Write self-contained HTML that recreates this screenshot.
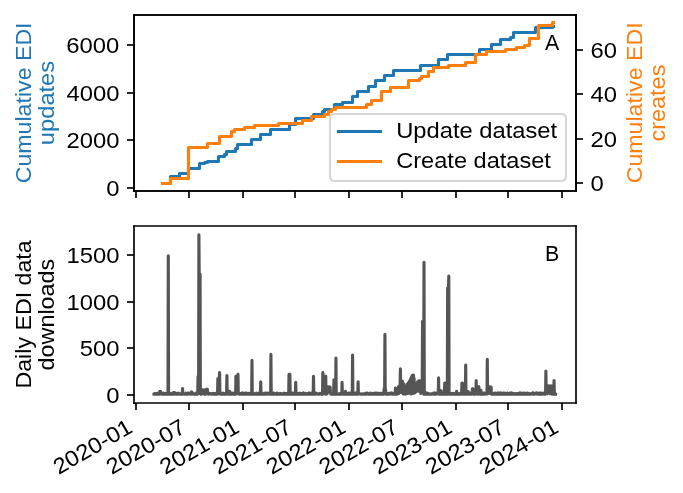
<!DOCTYPE html>
<html><head><meta charset="utf-8"><style>
html,body{margin:0;padding:0;background:#fff;}
body{width:683px;height:493px;overflow:hidden;}
svg{display:block;will-change:transform;}
text{font-family:"Liberation Sans",sans-serif;}
</style></head><body>
<svg width="683" height="493" viewBox="0 0 683 493" font-family="Liberation Sans, sans-serif">
<rect width="683" height="493" fill="#fff"/>
<path d="M134 191L576 191L576 15L134 15Z" fill="#ffffff"/>
<path d="M136 191L136 198" fill="none" stroke="#000000" stroke-width="1.67" stroke-linecap="butt"/>
<path d="M189 191L189 198" fill="none" stroke="#000000" stroke-width="1.67" stroke-linecap="butt"/>
<path d="M243 191L243 198" fill="none" stroke="#000000" stroke-width="1.67" stroke-linecap="butt"/>
<path d="M295 191L295 198" fill="none" stroke="#000000" stroke-width="1.67" stroke-linecap="butt"/>
<path d="M349 191L349 198" fill="none" stroke="#000000" stroke-width="1.67" stroke-linecap="butt"/>
<path d="M402 191L402 198" fill="none" stroke="#000000" stroke-width="1.67" stroke-linecap="butt"/>
<path d="M456 191L456 198" fill="none" stroke="#000000" stroke-width="1.67" stroke-linecap="butt"/>
<path d="M508 191L508 198" fill="none" stroke="#000000" stroke-width="1.67" stroke-linecap="butt"/>
<path d="M562 191L562 198" fill="none" stroke="#000000" stroke-width="1.67" stroke-linecap="butt"/>
<path d="M134 188L127 188" fill="none" stroke="#000000" stroke-width="1.67" stroke-linecap="butt"/>
<text x="106.17" y="196" font-size="22.19" fill="#000000" textLength="13.26" lengthAdjust="spacingAndGlyphs">0</text>
<path d="M134 140L127 140" fill="none" stroke="#000000" stroke-width="1.67" stroke-linecap="butt"/>
<text x="66.42" y="148.33" font-size="22.19" fill="#000000" textLength="53.02" lengthAdjust="spacingAndGlyphs">2000</text>
<path d="M134 93L127 93" fill="none" stroke="#000000" stroke-width="1.67" stroke-linecap="butt"/>
<text x="66.42" y="100.67" font-size="22.19" fill="#000000" textLength="53.02" lengthAdjust="spacingAndGlyphs">4000</text>
<path d="M134 45L127 45" fill="none" stroke="#000000" stroke-width="1.67" stroke-linecap="butt"/>
<text x="66.29" y="53" font-size="22.19" fill="#000000" textLength="53.02" lengthAdjust="spacingAndGlyphs">6000</text>
<text x="30.76" y="183.31" font-size="21.46" fill="#1f77b4" textLength="160.88" lengthAdjust="spacingAndGlyphs" transform="rotate(-90 30.76 183.31)">Cumulative EDI</text>
<text x="53.96" y="145.12" font-size="21.46" fill="#1f77b4" textLength="84.26" lengthAdjust="spacingAndGlyphs" transform="rotate(-90 53.96 145.12)">updates</text>
<path d="M162.5 183.5L170.5 183.5L170.5 176.5L179.5 176.5L179.5 173.5L188.5 173.5L188.5 168.5L199.5 168.5L199.5 163.5L204.5 163.5L204.5 162.5L207.5 162.5L207.5 161.5L218.5 161.5L218.5 156.5L224.5 156.5L224.5 154.5L226.5 154.5L226.5 151.5L235.5 151.5L235.5 148.5L237.5 148.5L237.5 144.5L251.5 144.5L251.5 139.5L260.5 139.5L260.5 134.5L270.5 134.5L270.5 129.5L289.5 129.5L289.5 124.5L295.5 124.5L295.5 118.5L313.5 118.5L313.5 114.5L322.5 114.5L322.5 111.5L324.5 111.5L324.5 109.5L334.5 109.5L334.5 104.5L342.5 104.5L342.5 102.5L352.5 102.5L352.5 96.5L357.5 96.5L357.5 91.5L368.5 91.5L368.5 86.5L375.5 86.5L375.5 80.5L384.5 80.5L384.5 75.5L393.5 75.5L393.5 70.5L420.5 70.5L420.5 65.5L438.5 65.5L438.5 59.5L447.5 59.5L447.5 54.5L479.5 54.5L479.5 49.5L491.5 49.5L491.5 44.5L500.5 44.5L500.5 39.5L510.5 39.5L510.5 37.5L513.5 37.5L513.5 32.5L535.5 32.5L535.5 27.5L552.5 27.5L552.5 26.5L553.5 26.5L553.5 26.5" fill="none" stroke="#1f77b4" stroke-width="3.12" stroke-linecap="square" stroke-linejoin="round"/>
<path d="M134 191L134 15" fill="none" stroke="#000000" stroke-width="1.67" stroke-linecap="square" stroke-linejoin="miter"/>
<path d="M576 191L576 15" fill="none" stroke="#000000" stroke-width="1.67" stroke-linecap="square" stroke-linejoin="miter"/>
<path d="M134 191L576 191" fill="none" stroke="#000000" stroke-width="1.67" stroke-linecap="square" stroke-linejoin="miter"/>
<path d="M134 15L576 15" fill="none" stroke="#000000" stroke-width="1.67" stroke-linecap="square" stroke-linejoin="miter"/>
<text x="545.06" y="50.2" font-size="22.19" fill="#000000" textLength="14.25" lengthAdjust="spacingAndGlyphs">A</text>
<path d="M134 403L576 403L576 226L134 226Z" fill="#ffffff"/>
<path d="M136 403L136 410" fill="none" stroke="#000000" stroke-width="1.67" stroke-linecap="butt"/>
<text x="58.66" y="474.94" font-size="22.19" fill="#000000" textLength="87.05" lengthAdjust="spacingAndGlyphs" transform="rotate(-30 58.66 474.94)">2020-01</text>
<path d="M189 403L189 410" fill="none" stroke="#000000" stroke-width="1.67" stroke-linecap="butt"/>
<text x="111.72" y="474.94" font-size="22.19" fill="#000000" textLength="87.05" lengthAdjust="spacingAndGlyphs" transform="rotate(-30 111.72 474.94)">2020-07</text>
<path d="M243 403L243 410" fill="none" stroke="#000000" stroke-width="1.67" stroke-linecap="butt"/>
<text x="165.37" y="474.94" font-size="22.19" fill="#000000" textLength="87.05" lengthAdjust="spacingAndGlyphs" transform="rotate(-30 165.37 474.94)">2021-01</text>
<path d="M295 403L295 410" fill="none" stroke="#000000" stroke-width="1.67" stroke-linecap="butt"/>
<text x="218.15" y="474.94" font-size="22.19" fill="#000000" textLength="87.05" lengthAdjust="spacingAndGlyphs" transform="rotate(-30 218.15 474.94)">2021-07</text>
<path d="M349 403L349 410" fill="none" stroke="#000000" stroke-width="1.67" stroke-linecap="butt"/>
<text x="271.8" y="474.94" font-size="22.19" fill="#000000" textLength="87.05" lengthAdjust="spacingAndGlyphs" transform="rotate(-30 271.8 474.94)">2022-01</text>
<path d="M402 403L402 410" fill="none" stroke="#000000" stroke-width="1.67" stroke-linecap="butt"/>
<text x="324.58" y="474.94" font-size="22.19" fill="#000000" textLength="87.05" lengthAdjust="spacingAndGlyphs" transform="rotate(-30 324.58 474.94)">2022-07</text>
<path d="M456 403L456 410" fill="none" stroke="#000000" stroke-width="1.67" stroke-linecap="butt"/>
<text x="378.23" y="474.94" font-size="22.19" fill="#000000" textLength="87.05" lengthAdjust="spacingAndGlyphs" transform="rotate(-30 378.23 474.94)">2023-01</text>
<path d="M508 403L508 410" fill="none" stroke="#000000" stroke-width="1.67" stroke-linecap="butt"/>
<text x="431" y="474.94" font-size="22.19" fill="#000000" textLength="87.05" lengthAdjust="spacingAndGlyphs" transform="rotate(-30 431 474.94)">2023-07</text>
<path d="M562 403L562 410" fill="none" stroke="#000000" stroke-width="1.67" stroke-linecap="butt"/>
<text x="484.66" y="474.94" font-size="22.19" fill="#000000" textLength="87.05" lengthAdjust="spacingAndGlyphs" transform="rotate(-30 484.66 474.94)">2024-01</text>
<path d="M134 395L127 395" fill="none" stroke="#000000" stroke-width="1.67" stroke-linecap="butt"/>
<text x="106.17" y="403" font-size="22.19" fill="#000000" textLength="13.26" lengthAdjust="spacingAndGlyphs">0</text>
<path d="M134 348L127 348" fill="none" stroke="#000000" stroke-width="1.67" stroke-linecap="butt"/>
<text x="79.67" y="356.33" font-size="22.19" fill="#000000" textLength="39.77" lengthAdjust="spacingAndGlyphs">500</text>
<path d="M134 302L127 302" fill="none" stroke="#000000" stroke-width="1.67" stroke-linecap="butt"/>
<text x="66.42" y="309.67" font-size="22.19" fill="#000000" textLength="53.02" lengthAdjust="spacingAndGlyphs">1000</text>
<path d="M134 255L127 255" fill="none" stroke="#000000" stroke-width="1.67" stroke-linecap="butt"/>
<text x="66.42" y="263" font-size="22.19" fill="#000000" textLength="53.02" lengthAdjust="spacingAndGlyphs">1500</text>
<text x="30.88" y="388.56" font-size="21.46" fill="#000000" textLength="148.24" lengthAdjust="spacingAndGlyphs" transform="rotate(-90 30.88 388.56)">Daily EDI data</text>
<text x="54.08" y="370.38" font-size="21.46" fill="#000000" textLength="111.6" lengthAdjust="spacingAndGlyphs" transform="rotate(-90 54.08 370.38)">downloads</text>
<path d="M154 394.2L154.29 394.18L154.58 393.53L154.87 393.94L155.17 394.2L155.46 394.09L155.75 394.06L156.04 394.19L156.33 393.68L156.62 394.2L156.92 394.12L157.21 394.02L157.5 394.1L157.79 393.94L158.08 393.68L158.37 393.06L158.67 394.17L158.96 393.85L159.25 393.76L159.54 394.17L159.83 391.6L160.12 394.06L160.41 391.6L160.71 391.6L161 393.28L161.29 393.94L161.58 394.06L161.87 393.6L162.16 394.2L162.46 393.74L162.75 394.13L163.04 394.2L163.33 393.83L163.62 393.15L163.91 394.19L164.21 393.87L164.5 394.17L164.79 393.67L165.08 393.71L165.37 394.19L165.66 393.46L165.95 393.83L166.25 393.79L166.54 393.48L166.83 394.1L167.12 393.63L167.41 393.32L167.7 394.2L168 393.4L168.29 255.8L168.58 394.06L168.87 394.2L169.16 393.76L169.45 394.17L169.75 393.34L170.04 394.17L170.33 393.97L170.62 394.12L170.91 393.9L171.2 394.19L171.49 394.19L171.79 393.66L172.08 393.65L172.37 393.96L172.66 393.18L172.95 394.19L173.24 393.4L173.54 394.19L173.83 392.5L174.12 393.53L174.41 392.5L174.7 393.01L174.99 393.57L175.29 393.56L175.58 394.2L175.87 394.13L176.16 394.2L176.45 394.19L176.74 394.19L177.03 393.38L177.33 394.2L177.62 394.17L177.91 394.04L178.2 393.4L178.49 393.03L178.78 393.74L179.08 394.19L179.37 393.99L179.66 393.74L179.95 394.2L180.24 393.79L180.53 394.14L180.83 393.93L181.12 393.81L181.41 393.81L181.7 394.01L181.99 393.98L182.28 394.19L182.57 388.5L182.87 394.2L183.16 394.06L183.45 394L183.74 393.6L184.03 394.12L184.32 394.2L184.62 394.01L184.91 394.19L185.2 393.67L185.49 394.12L185.78 394.13L186.07 393.22L186.37 394.12L186.66 394.14L186.95 394.15L187.24 394.06L187.53 394.2L187.82 393.99L188.11 393.18L188.41 393.97L188.7 393.66L188.99 393.1L189.28 393.42L189.57 393.66L189.86 393.5L190.16 393.48L190.45 394.18L190.74 394.05L191.03 394.15L191.32 392L191.61 393.77L191.91 392L192.2 393.89L192.49 393.94L192.78 394.2L193.07 394.09L193.36 394.12L193.66 393.74L193.95 394.2L194.24 394.19L194.53 394.02L194.82 394.11L195.11 393.82L195.4 394.15L195.7 394.19L195.99 393.15L196.28 394.18L196.57 394.2L196.86 394.17L197.15 394.15L197.45 394.19L197.74 394L198.03 376.5L198.32 387.96L198.61 376.5L198.9 234.7L199.2 274L199.49 346.77L199.78 274L200.07 274L200.36 393.31L200.65 394.2L200.94 393.94L201.24 394.19L201.53 390L201.82 394.01L202.11 390L202.4 393.64L202.69 390L202.99 393.3L203.28 390L203.57 393.88L203.86 390L204.15 394.13L204.44 390L204.74 393.75L205.03 394.16L205.32 394.13L205.61 393.62L205.9 394.04L206.19 393.57L206.48 389.3L206.78 393.38L207.07 389.3L207.36 389.3L207.65 393.97L207.94 393.03L208.23 394.2L208.53 394.15L208.82 393.61L209.11 393.78L209.4 393.97L209.69 393.82L209.98 393.32L210.28 393.78L210.57 393.99L210.86 393.97L211.15 393.82L211.44 394.16L211.73 393.81L212.02 393.9L212.32 393.57L212.61 394.06L212.9 394.2L213.19 394L213.48 393.38L213.77 393.86L214.07 393.85L214.36 394.12L214.65 394.14L214.94 393.72L215.23 394.2L215.52 393.35L215.82 393.33L216.11 393.04L216.4 394.2L216.69 394.2L216.98 393.27L217.27 394.12L217.56 394.17L217.86 378.6L218.15 390.8L218.44 378.6L218.73 387.96L219.02 378.6L219.31 378.6L219.61 372.6L219.9 393.51L220.19 394.09L220.48 394.09L220.77 393.97L221.06 394.17L221.36 393.29L221.65 394.19L221.94 393.99L222.23 394.19L222.52 393.9L222.81 393.25L223.1 393.31L223.4 394.2L223.69 393.88L223.98 393.28L224.27 394.19L224.56 394.11L224.85 393.73L225.15 393.68L225.44 394.08L225.73 393.86L226.02 393.81L226.31 394.14L226.6 393.84L226.9 375.6L227.19 393.76L227.48 394.03L227.77 394.15L228.06 394.09L228.35 393.18L228.64 394.19L228.94 394.2L229.23 394.2L229.52 393.4L229.81 391.4L230.1 394.18L230.39 394.18L230.69 394.19L230.98 393.92L231.27 394.05L231.56 393.48L231.85 394.19L232.14 393.32L232.44 394.07L232.73 393.51L233.02 393.53L233.31 393.22L233.6 394.04L233.89 393.91L234.18 393.97L234.48 394.19L234.77 394.04L235.06 393.17L235.35 393.22L235.64 394.2L235.93 376.2L236.23 393.83L236.52 376.2L236.81 392.59L237.1 376.2L237.39 387.76L237.68 376.2L237.98 374.4L238.27 394.03L238.56 393.46L238.85 393.66L239.14 394.2L239.43 394.19L239.72 393.35L240.02 394.04L240.31 393.83L240.6 393.59L240.89 393.86L241.18 393.69L241.47 393.99L241.77 394.18L242.06 394.19L242.35 392.93L242.64 394.2L242.93 393.77L243.22 393.31L243.52 394.18L243.81 394.2L244.1 394.12L244.39 394.15L244.68 394.07L244.97 394.1L245.26 393.11L245.56 394.2L245.85 393.11L246.14 394.2L246.43 393.13L246.72 394.15L247.01 393.7L247.31 394.2L247.6 394.08L247.89 393.8L248.18 393.88L248.47 393.52L248.76 394.2L249.06 394.12L249.35 393.9L249.64 394.2L249.93 393.44L250.22 394.11L250.51 394.18L250.8 394.19L251.1 393.84L251.39 394.2L251.68 394.18L251.97 360.4L252.26 394.18L252.55 393.69L252.85 393.93L253.14 393.24L253.43 393.75L253.72 394.17L254.01 394.16L254.3 394.2L254.6 394.18L254.89 393.91L255.18 393.69L255.47 394.17L255.76 394.15L256.05 393.53L256.34 393.06L256.64 394.2L256.93 394.2L257.22 393.63L257.51 394.04L257.8 394.1L258.09 393.87L258.39 393.63L258.68 394.2L258.97 393.04L259.26 393.06L259.55 394.11L259.84 394.07L260.14 394.17L260.43 393.94L260.72 381.7L261.01 394L261.3 393.24L261.59 394.03L261.89 393.46L262.18 394.19L262.47 393.3L262.76 394.2L263.05 394.19L263.34 393.71L263.63 394.16L263.93 394.2L264.22 394.2L264.51 393.55L264.8 394.2L265.09 394.2L265.38 393.1L265.68 393.58L265.97 394.13L266.26 394.19L266.55 393.35L266.84 393.56L267.13 393.81L267.43 394.01L267.72 394.01L268.01 392.98L268.3 394.01L268.59 394.2L268.88 394.2L269.17 393.93L269.47 393.69L269.76 393.88L270.05 393.67L270.34 394.17L270.63 394.13L270.92 354.4L271.22 394.13L271.51 394.18L271.8 393.45L272.09 394.2L272.38 394.19L272.67 393.73L272.97 394.12L273.26 394.15L273.55 393L273.84 393.27L274.13 394.19L274.42 394.2L274.71 394.04L275.01 393.95L275.3 394.15L275.59 393.93L275.88 393.79L276.17 393.5L276.46 394.18L276.76 393.85L277.05 393L277.34 394.2L277.63 394.2L277.92 394.2L278.21 393.58L278.51 394.13L278.8 394.04L279.09 394.08L279.38 394.19L279.67 394.2L279.96 394.19L280.25 393.38L280.55 394.15L280.84 394.1L281.13 394.18L281.42 393.67L281.71 393.75L282 394.13L282.3 394.03L282.59 394.12L282.88 393.96L283.17 393.93L283.46 393.95L283.75 393.25L284.05 393.08L284.34 394.2L284.63 394.13L284.92 394.2L285.21 394.13L285.5 393.53L285.79 393.79L286.09 393.96L286.38 394.2L286.67 393.51L286.96 393.9L287.25 394.16L287.54 393.57L287.84 394.2L288.13 394.19L288.42 393.56L288.71 394.2L289 374.4L289.29 389.82L289.59 374.4L289.88 374.4L290.17 394.2L290.46 394.17L290.75 393.74L291.04 394.15L291.33 394.19L291.63 394.2L291.92 394.18L292.21 393.15L292.5 394.2L292.79 393.98L293.08 393.22L293.38 393.75L293.67 394.17L293.96 393.85L294.25 394.2L294.54 394.04L294.83 394.18L295.13 393.33L295.42 393.36L295.71 382.4L296 394.13L296.29 393.54L296.58 392.98L296.87 394.13L297.17 394.01L297.46 394.19L297.75 394.2L298.04 393.71L298.33 394.2L298.62 393.92L298.92 394.2L299.21 393.81L299.5 393.64L299.79 393.12L300.08 394.12L300.37 394.12L300.67 394.12L300.96 393.74L301.25 393.56L301.54 394.2L301.83 394.16L302.12 394.2L302.41 394.18L302.71 393.69L303 393.13L303.29 392.98L303.58 394.2L303.87 394.12L304.16 393.34L304.46 394.03L304.75 394.14L305.04 393.58L305.33 393.36L305.62 394.2L305.91 394.02L306.21 394.2L306.5 394.19L306.79 394.01L307.08 394.18L307.37 393.52L307.66 394.14L307.95 394.19L308.25 393.88L308.54 394.18L308.83 394.2L309.12 392.9L309.41 394.19L309.7 394.2L310 394.06L310.29 394.2L310.58 393.56L310.87 394.2L311.16 394.2L311.45 393.03L311.75 394.02L312.04 393.16L312.33 393.26L312.62 393.69L312.91 394.2L313.2 393.85L313.49 376.2L313.79 394.2L314.08 393.42L314.37 394.16L314.66 393.66L314.95 394.01L315.24 393.57L315.54 393.86L315.83 393L316.12 394.06L316.41 393.39L316.7 393.48L316.99 393.94L317.29 394.03L317.58 394.1L317.87 393.85L318.16 394.19L318.45 394.09L318.74 393.85L319.03 394.16L319.33 394.19L319.62 394.2L319.91 393.52L320.2 393.33L320.49 393.45L320.78 393.74L321.08 393.91L321.37 394.2L321.66 393.31L321.95 394.06L322.24 393.78L322.53 394.2L322.83 372.6L323.12 376.5L323.41 388.87L323.7 376.5L323.99 393.83L324.28 376.5L324.57 389.27L324.87 376.5L325.16 388.13L325.45 376.5L325.74 376.2L326.03 394.19L326.32 394.11L326.62 387L326.91 393.91L327.2 387L327.49 392.2L327.78 387L328.07 391.69L328.37 387L328.66 391.5L328.95 387L329.24 391.79L329.53 387L329.82 392.57L330.11 387L330.41 393.51L330.7 393.4L330.99 394.15L331.28 394.07L331.57 394.19L331.86 393.94L332.16 394.2L332.45 394.07L332.74 394.19L333.03 394.06L333.32 394.19L333.61 394.2L333.91 379.8L334.2 389.88L334.49 379.8L334.78 392.33L335.07 379.8L335.36 394.17L335.66 394.2L335.95 358L336.24 393.81L336.53 394.16L336.82 393.73L337.11 393.56L337.4 394.2L337.7 394.19L337.99 394.17L338.28 393.93L338.57 394.05L338.86 393.96L339.15 394.2L339.45 394.17L339.74 394.19L340.03 393.66L340.32 393.78L340.61 394.16L340.9 393.33L341.2 394.2L341.49 394.2L341.78 394.13L342.07 382.4L342.36 393.1L342.65 394.03L342.94 394.2L343.24 393.92L343.53 394.2L343.82 393.49L344.11 394.16L344.4 394.2L344.69 394.2L344.99 393.46L345.28 393.23L345.57 391.2L345.86 392.91L346.15 393.37L346.44 394.15L346.74 394.2L347.03 394.2L347.32 394.09L347.61 394.19L347.9 394.19L348.19 394.17L348.48 393.32L348.78 394.2L349.07 393.18L349.36 394.08L349.65 393.68L349.94 394.03L350.23 393.1L350.53 394.19L350.82 394.18L351.11 394.03L351.4 394.03L351.69 394.15L351.98 394.16L352.28 394.2L352.57 355L352.86 393.46L353.15 393.35L353.44 394.11L353.73 392.98L354.02 393.02L354.32 394.16L354.61 394.2L354.9 393.44L355.19 393.12L355.48 393.84L355.77 393.03L356.07 394.06L356.36 394.01L356.65 394.2L356.94 394.13L357.23 393.17L357.52 394.2L357.82 394.2L358.11 381.7L358.4 394.04L358.69 393.91L358.98 394L359.27 393.32L359.56 393.79L359.86 393.86L360.15 393.92L360.44 394.03L360.73 394.2L361.02 394.2L361.31 393.85L361.61 394.19L361.9 394.11L362.19 393.85L362.48 393.92L362.77 394.18L363.06 394.18L363.36 394.2L363.65 393.82L363.94 393.72L364.23 394.2L364.52 394.17L364.81 394.2L365.1 393.9L365.4 394.17L365.69 393.34L365.98 394.18L366.27 393.85L366.56 393.87L366.85 393.11L367.15 393.71L367.44 393.14L367.73 393.94L368.02 394.2L368.31 394.15L368.6 393.67L368.9 394.15L369.19 393.83L369.48 394.2L369.77 393.85L370.06 394.13L370.35 393.1L370.64 394.2L370.94 394.14L371.23 393.61L371.52 394.12L371.81 394.07L372.1 394.15L372.39 394.2L372.69 394.16L372.98 393.32L373.27 393.61L373.56 394.16L373.85 393.81L374.14 393.55L374.44 393.54L374.73 394.2L375.02 394.19L375.31 393.06L375.6 394.17L375.89 393.59L376.18 393.87L376.48 393.34L376.77 394.2L377.06 393.14L377.35 393.33L377.64 394.18L377.93 393.73L378.23 394.2L378.52 393.36L378.81 394.11L379.1 393.67L379.39 393.55L379.68 394.2L379.98 393.31L380.27 394.2L380.56 394.2L380.85 394.08L381.14 394.18L381.43 393.85L381.72 394.19L382.02 393.89L382.31 393.63L382.6 393.04L382.89 394.12L383.18 394.17L383.47 393.95L383.77 393.84L384.06 389L384.35 393.97L384.64 389L384.93 334.2L385.22 389L385.52 389L385.81 394.2L386.1 394.17L386.39 394.19L386.68 394.04L386.97 394.13L387.26 394.19L387.56 394.01L387.85 393.83L388.14 394.15L388.43 393.44L388.72 394.2L389.01 394.2L389.31 393.74L389.6 393.97L389.89 393.65L390.18 393.14L390.47 394.03L390.76 393.49L391.06 393.85L391.35 394.02L391.64 394.03L391.93 392.93L392.22 394.15L392.51 394.1L392.8 394.06L393.1 393.86L393.39 394.2L393.68 393.84L393.97 394.2L394.26 394.13L394.55 394.09L394.85 393.96L395.14 393.96L395.43 388L395.72 394.2L396.01 394.15L396.3 393.68L396.6 394.11L396.89 393.47L397.18 393.99L397.47 393.96L397.76 393.8L398.05 393.09L398.34 387.05L398.64 393.57L398.93 386.32L399.22 391.43L399.51 386.13L399.8 392.56L400.09 386L400.39 368.8L400.68 386L400.97 392.64L401.26 383.2L401.55 391.56L401.84 381.04L402.14 390.04L402.43 381.18L402.72 390.51L403.01 382.5L403.3 394.05L403.59 383.98L403.89 392.81L404.18 386.16L404.47 394L404.76 387.3L405.05 394.09L405.34 387.79L405.63 393.32L405.93 387.13L406.22 393.96L406.51 385.58L406.8 392.29L407.09 384.02L407.38 391.63L407.68 383.5L407.97 393.48L408.26 383L408.55 391.51L408.84 382.29L409.13 391.01L409.43 381.31L409.72 391.75L410.01 380.32L410.3 391.19L410.59 379.04L410.88 393.97L411.17 377.61L411.47 393.59L411.76 376.42L412.05 392.42L412.34 375.31L412.63 393.49L412.92 375L413.22 389.17L413.51 375L413.8 389.24L414.09 378.25L414.38 391.29L414.67 384.78L414.97 393.04L415.26 385.59L415.55 391.13L415.84 384.81L416.13 391.1L416.42 383.84L416.71 391.35L417.01 382.79L417.3 390.43L417.59 381.82L417.88 390.89L418.17 381.28L418.46 390.06L418.76 380.8L419.05 390.9L419.34 380.8L419.63 391.55L419.92 380.8L420.21 392.07L420.51 381.64L420.8 393.4L421.09 383L421.38 391.42L421.67 383L421.96 391.79L422.25 383L422.55 321.4L422.84 369.35L423.13 321.4L423.42 321.4L423.71 394.2L424 262.2L424.3 393.68L424.59 393.95L424.88 393.23L425.17 394.05L425.46 394.08L425.75 394.2L426.05 393.07L426.34 393.8L426.63 392.98L426.92 393.14L427.21 394.2L427.5 393.91L427.79 394.05L428.09 393.64L428.38 394.2L428.67 393.83L428.96 393.9L429.25 394.13L429.54 394.2L429.84 393.78L430.13 394.2L430.42 394.15L430.71 394.2L431 394.16L431.29 394.18L431.59 393.89L431.88 393.78L432.17 393.74L432.46 394.11L432.75 393.64L433.04 393.83L433.33 394L433.63 393L433.92 393.01L434.21 394.06L434.5 393.04L434.79 393.89L435.08 394.12L435.38 394.06L435.67 393.83L435.96 394.16L436.25 393.18L436.54 394.13L436.83 393.88L437.13 393.37L437.42 393.46L437.71 393.8L438 393.73L438.29 393.64L438.58 377.9L438.87 394.09L439.17 393.26L439.46 394.19L439.75 394.2L440.04 394.16L440.33 394.18L440.62 390.8L440.92 392.89L441.21 390.8L441.5 393.98L441.79 394.19L442.08 393.33L442.37 393.31L442.67 394.2L442.96 393.61L443.25 393.96L443.54 394.19L443.83 394.15L444.12 393.69L444.41 394.19L444.71 383L445 393.13L445.29 383L445.58 394.19L445.87 393.47L446.16 393.99L446.46 393.77L446.75 393.88L447.04 394.16L447.33 393.68L447.62 288L447.91 379.89L448.21 288L448.5 288L448.79 276L449.08 394.12L449.37 393.08L449.66 394.16L449.95 393.28L450.25 394.2L450.54 394.2L450.83 394.17L451.12 393.67L451.41 393.92L451.7 394.11L452 394.11L452.29 393.43L452.58 394.19L452.87 393.56L453.16 394.13L453.45 393.77L453.75 393.49L454.04 394.1L454.33 394.19L454.62 394.18L454.91 394.18L455.2 394.2L455.49 394.1L455.79 393.85L456.08 394.12L456.37 393.06L456.66 391.2L456.95 393.59L457.24 393.55L457.54 394.16L457.83 393.63L458.12 394.2L458.41 394.2L458.7 394.2L458.99 394.16L459.29 393.7L459.58 394.2L459.87 394.13L460.16 393.92L460.45 393.41L460.74 393.97L461.03 394.18L461.33 394.2L461.62 394.03L461.91 383L462.2 393.61L462.49 383L462.78 394.19L463.08 394.2L463.37 394.2L463.66 394.17L463.95 394L464.24 394.2L464.53 393.89L464.83 394.16L465.12 393.56L465.41 394.01L465.7 365L465.99 394.18L466.28 393.96L466.57 393.29L466.87 394.2L467.16 393.14L467.45 393.93L467.74 392.91L468.03 394.17L468.32 391.5L468.62 393.78L468.91 393.93L469.2 393.89L469.49 393.36L469.78 394.19L470.07 393.72L470.37 394.09L470.66 393.21L470.95 393.09L471.24 394.09L471.53 394.14L471.82 393.25L472.11 393.12L472.41 388.8L472.7 392.3L472.99 388.8L473.28 394.05L473.57 394.14L473.86 394.2L474.16 394.09L474.45 394.19L474.74 393.7L475.03 393.9L475.32 393.13L475.61 393.77L475.91 394.18L476.2 380.6L476.49 394.04L476.78 394L477.07 393.12L477.36 393.87L477.66 394.15L477.95 394.17L478.24 393.95L478.53 394.2L478.82 386.6L479.11 393.26L479.4 393.19L479.7 393.97L479.99 393.99L480.28 394.15L480.57 393.93L480.86 390.2L481.15 393.84L481.45 393.07L481.74 393.64L482.03 394.2L482.32 394.19L482.61 393.77L482.9 393L483.2 393.92L483.49 393.44L483.78 394.17L484.07 394.18L484.36 392.97L484.65 393.32L484.94 394.08L485.24 393.49L485.53 393.85L485.82 393.58L486.11 393.93L486.4 393.79L486.69 393.11L486.99 394.1L487.28 359.2L487.57 393.05L487.86 387.1L488.15 393.34L488.44 387.1L488.74 392.16L489.03 387.1L489.32 391.89L489.61 387.1L489.9 392.44L490.19 387.1L490.48 393.77L490.78 387.1L491.07 387.1L491.36 393.12L491.65 393.63L491.94 394.2L492.23 393.56L492.53 394.2L492.82 394.02L493.11 394.19L493.4 394.19L493.69 394L493.98 393.3L494.28 394.2L494.57 394.19L494.86 394.05L495.15 393.07L495.44 394.14L495.73 393.34L496.02 393.99L496.32 394.08L496.61 393.62L496.9 394.19L497.19 394.01L497.48 394.2L497.77 394.01L498.07 392.91L498.36 394.2L498.65 394.2L498.94 393.96L499.23 393.15L499.52 393.98L499.82 393.04L500.11 394.16L500.4 392.93L500.69 394.19L500.98 393.6L501.27 394.15L501.56 393.44L501.86 394.2L502.15 394.16L502.44 393.17L502.73 393.6L503.02 394.05L503.31 394.13L503.61 393.11L503.9 394.19L504.19 394.19L504.48 394.2L504.77 393.81L505.06 393.21L505.36 394.2L505.65 393.62L505.94 393.61L506.23 394.19L506.52 394.02L506.81 393.96L507.1 394.2L507.4 393.1L507.69 394.2L507.98 394.2L508.27 393.75L508.56 394.04L508.85 393.57L509.15 393.85L509.44 394.2L509.73 394.08L510.02 392.98L510.31 394.16L510.6 394.19L510.9 393.29L511.19 394.2L511.48 394.11L511.77 392.92L512.06 393.37L512.35 394.2L512.64 394.2L512.94 394.05L513.23 393.78L513.52 393.51L513.81 394.19L514.1 394.1L514.39 394.08L514.69 394.16L514.98 393.79L515.27 394L515.56 394.11L515.85 393.6L516.14 394.17L516.44 393.92L516.73 393.58L517.02 394.15L517.31 394.2L517.6 394.2L517.89 393.56L518.18 393.5L518.48 393.73L518.77 394.2L519.06 394.18L519.35 393.09L519.64 393.97L519.93 394.1L520.23 393.01L520.52 393.02L520.81 394.18L521.1 393.71L521.39 393.49L521.68 393.4L521.98 393.21L522.27 393.65L522.56 394.2L522.85 394.16L523.14 394.19L523.43 393.86L523.72 393.99L524.02 393.01L524.31 394.18L524.6 394.2L524.89 394.2L525.18 394.19L525.47 393.27L525.77 393.9L526.06 394.18L526.35 393.95L526.64 393.85L526.93 394.15L527.22 394.2L527.52 393L527.81 393.94L528.1 394.2L528.39 394.04L528.68 394.2L528.97 394.11L529.26 393.69L529.56 393.91L529.85 394.15L530.14 393.62L530.43 394.18L530.72 393.84L531.01 394.17L531.31 393.87L531.6 393.95L531.89 393.92L532.18 393.41L532.47 393.5L532.76 392.98L533.06 394.18L533.35 392.96L533.64 393.81L533.93 394.2L534.22 394.2L534.51 394.18L534.8 394.08L535.1 393.86L535.39 393.29L535.68 393.43L535.97 393.19L536.26 393.34L536.55 393.34L536.85 392.96L537.14 393.65L537.43 394.2L537.72 393.95L538.01 394.08L538.3 393.79L538.6 394.17L538.89 393.17L539.18 394.17L539.47 394.08L539.76 394.19L540.05 393.19L540.34 393.26L540.64 393.09L540.93 394.19L541.22 394.15L541.51 393.21L541.8 393.31L542.09 394.2L542.39 394.07L542.68 394.2L542.97 393.46L543.26 393.43L543.55 393.12L543.84 393.5L544.14 394.1L544.43 394.13L544.72 393.83L545.01 394.1L545.3 393.05L545.59 394.07L545.89 371L546.18 392.99L546.47 386L546.76 393.6L547.05 386L547.34 393.67L547.63 386L547.93 391.72L548.22 386L548.51 392.4L548.8 386L549.09 391.5L549.38 386L549.68 391.65L549.97 386L550.26 393.69L550.55 386L550.84 391.27L551.13 386L551.43 393.93L551.72 386L552.01 394.08L552.3 386L552.59 386L552.88 393.72L553.17 394.2L553.47 394.18L553.76 394.19L554.05 380.5L554.34 393.56L554.63 394.19L554.92 393.25L555.22 394.14L555.51 394.19" fill="none" stroke="#555555" stroke-width="3.12" stroke-linecap="square" stroke-linejoin="round"/>
<path d="M134 403L134 226" fill="none" stroke="#000000" stroke-width="1.67" stroke-linecap="square" stroke-linejoin="miter"/>
<path d="M576 403L576 226" fill="none" stroke="#000000" stroke-width="1.67" stroke-linecap="square" stroke-linejoin="miter"/>
<path d="M134 403L576 403" fill="none" stroke="#000000" stroke-width="1.67" stroke-linecap="square" stroke-linejoin="miter"/>
<path d="M134 226L576 226" fill="none" stroke="#000000" stroke-width="1.67" stroke-linecap="square" stroke-linejoin="miter"/>
<text x="545.06" y="261.4" font-size="22.19" fill="#000000" textLength="14.29" lengthAdjust="spacingAndGlyphs">B</text>
<path d="M576 183L583 183" fill="none" stroke="#000000" stroke-width="1.67" stroke-linecap="butt"/>
<text x="590.58" y="191" font-size="22.19" fill="#000000" textLength="13.26" lengthAdjust="spacingAndGlyphs">0</text>
<path d="M576 139L583 139" fill="none" stroke="#000000" stroke-width="1.67" stroke-linecap="butt"/>
<text x="590.58" y="146.67" font-size="22.19" fill="#000000" textLength="26.51" lengthAdjust="spacingAndGlyphs">20</text>
<path d="M576 94L583 94" fill="none" stroke="#000000" stroke-width="1.67" stroke-linecap="butt"/>
<text x="590.58" y="102.33" font-size="22.19" fill="#000000" textLength="26.51" lengthAdjust="spacingAndGlyphs">40</text>
<path d="M576 50L583 50" fill="none" stroke="#000000" stroke-width="1.67" stroke-linecap="butt"/>
<text x="590.58" y="58" font-size="22.19" fill="#000000" textLength="26.51" lengthAdjust="spacingAndGlyphs">60</text>
<text x="641.54" y="183.31" font-size="21.46" fill="#ff7f0e" textLength="160.88" lengthAdjust="spacingAndGlyphs" transform="rotate(-90 641.54 183.31)">Cumulative EDI</text>
<text x="664.74" y="141.56" font-size="21.46" fill="#ff7f0e" textLength="76.98" lengthAdjust="spacingAndGlyphs" transform="rotate(-90 664.74 141.56)">creates</text>
<path d="M162.5 183.5L170.5 183.5L170.5 178.5L188.5 178.5L188.5 147.5L207.5 147.5L207.5 143.5L219.5 143.5L219.5 136.5L231.5 136.5L231.5 131.5L234.5 131.5L234.5 129.5L244.5 129.5L244.5 127.5L254.5 127.5L254.5 125.5L278.5 125.5L278.5 123.5L302.5 123.5L302.5 120.5L311.5 120.5L311.5 116.5L324.5 116.5L324.5 114.5L328.5 114.5L328.5 111.5L331.5 111.5L331.5 109.5L335.5 109.5L335.5 107.5L366.5 107.5L366.5 104.5L371.5 104.5L371.5 100.5L381.5 100.5L381.5 91.5L390.5 91.5L390.5 87.5L408.5 87.5L408.5 80.5L419.5 80.5L419.5 78.5L421.5 78.5L421.5 76.5L428.5 76.5L428.5 71.5L433.5 71.5L433.5 67.5L448.5 67.5L448.5 65.5L465.5 65.5L465.5 62.5L475.5 62.5L475.5 54.5L486.5 54.5L486.5 51.5L505.5 51.5L505.5 49.5L516.5 49.5L516.5 47.5L524.5 47.5L524.5 45.5L529.5 45.5L529.5 38.5L538.5 38.5L538.5 25.5L552.5 25.5L552.5 22.5L553.5 22.5L553.5 22.5" fill="none" stroke="#ff7f0e" stroke-width="3.12" stroke-linecap="square" stroke-linejoin="round"/>
<path d="M134 191L134 15" fill="none" stroke="#000000" stroke-width="1.67" stroke-linecap="square" stroke-linejoin="miter"/>
<path d="M576 191L576 15" fill="none" stroke="#000000" stroke-width="1.67" stroke-linecap="square" stroke-linejoin="miter"/>
<path d="M134 191L576 191" fill="none" stroke="#000000" stroke-width="1.67" stroke-linecap="square" stroke-linejoin="miter"/>
<path d="M134 15L576 15" fill="none" stroke="#000000" stroke-width="1.67" stroke-linecap="square" stroke-linejoin="miter"/>
<path d="M334 181L561 181Q566 181 566 176L566 118Q566 114 561 114L334 114Q330 114 330 118L330 176Q330 181 334 181Z" fill="#ffffff" fill-opacity="0.8" stroke="#cccccc" stroke-width="2.08" stroke-opacity="0.8" stroke-linecap="butt" stroke-linejoin="miter"/>
<path d="M338.5 131.5L359.5 131.5L359.5 131.5L380.5 131.5L380.5 131.5" fill="none" stroke="#1f77b4" stroke-width="3.12" stroke-linecap="square" stroke-linejoin="round"/>
<text x="396.25" y="137.83" font-size="21.35" fill="#000000" textLength="160.84" lengthAdjust="spacingAndGlyphs">Update dataset</text>
<path d="M338.5 161.5L359.5 161.5L359.5 161.5L380.5 161.5L380.5 161.5" fill="none" stroke="#ff7f0e" stroke-width="3.12" stroke-linecap="square" stroke-linejoin="round"/>
<text x="396.25" y="168.25" font-size="21.35" fill="#000000" textLength="154.6" lengthAdjust="spacingAndGlyphs">Create dataset</text>
</svg>
</body></html>
